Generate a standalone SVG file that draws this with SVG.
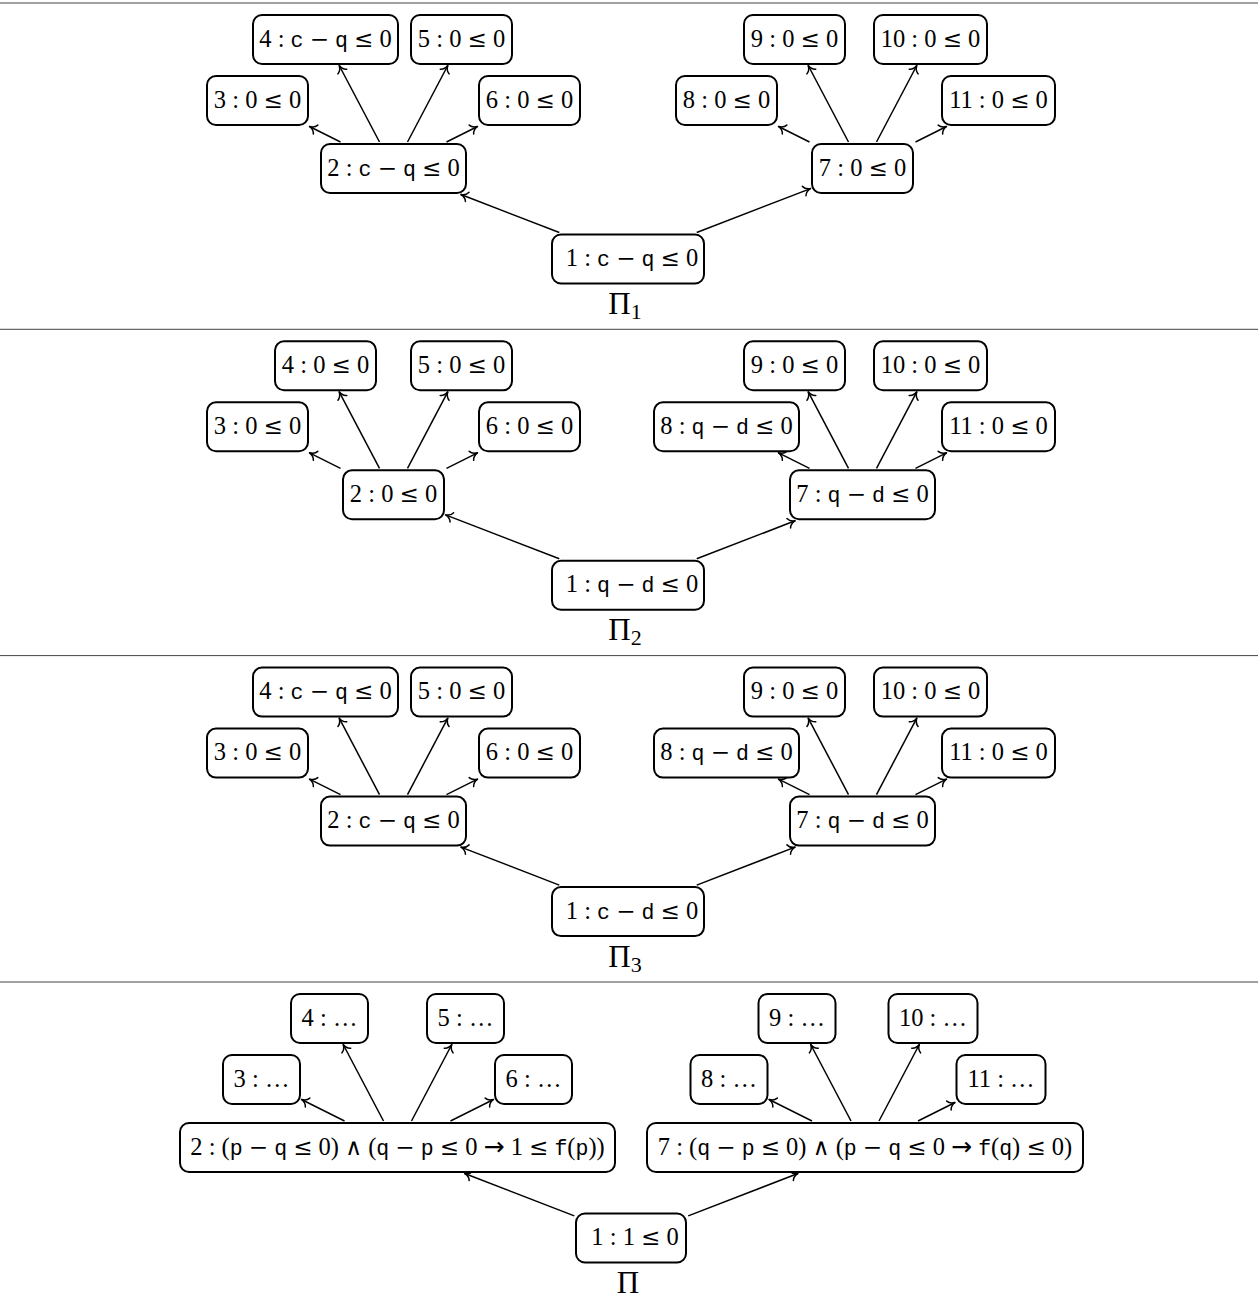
<svg xmlns="http://www.w3.org/2000/svg" width="1258" height="1301" viewBox="0 0 1258 1301">
<style>
.node rect{fill:#fff;stroke:#000;stroke-width:2}
.node text,.lbl{font-family:"Liberation Serif","DejaVu Serif",serif;font-size:24.5px;text-anchor:middle;fill:#000}
.tt{font-family:"Liberation Mono","DejaVu Sans Mono",monospace;font-size:21.5px}
.m{font-family:"DejaVu Serif",serif;font-size:23px}
.ar{font-family:"DejaVu Sans",sans-serif;font-size:25px}
.edges path{fill:none;stroke:#000;stroke-width:1.5;marker-end:url(#ah)}
.sep{stroke:#444;stroke-width:1}
.lbl{font-size:31px}
.sub{font-size:22px}
</style>
<defs>
<marker id="ah" markerUnits="userSpaceOnUse" viewBox="-9 -7 11 14" refX="0" refY="0" markerWidth="11" markerHeight="14" orient="auto">
<path d="M-6.8,-5 C-5.6,-2 -2.4,-0.45 0,0 C-2.4,0.45 -5.6,2 -6.8,5" fill="none" stroke="#000" stroke-width="1.5" stroke-linecap="round" stroke-linejoin="round"/>
</marker>
</defs>
<rect x="0" y="0" width="1258" height="1301" fill="#fff"/>

<g id="panel1">
<line class="sep" x1="0" y1="3" x2="1258" y2="3"/>
<g class="edges" id="p1-edges">
<path d="M559.3,232.5 L460.9,194.5"/>
<path d="M696.7,232.5 L810.5,188.6"/>
<path d="M340.5,142 L309.5,126.5"/>
<path d="M379.5,142 L339.2,65.5"/>
<path d="M407.5,142 L447.8,65.5"/>
<path d="M446.5,142 L477.5,126.5"/>
<path d="M809.5,142 L778.5,126.5"/>
<path d="M848.5,142 L808.2,65.5"/>
<path d="M876.5,142 L916.8,65.5"/>
<path d="M915.5,142 L946.5,126.5"/>
</g>
<g class="node" id="p1-n1"><rect x="552" y="234.5" width="152" height="49" rx="9"/><text x="632" y="266">1 : <tspan class="tt">c</tspan> <tspan class="m">−</tspan> <tspan class="tt">q</tspan> <tspan class="m">≤</tspan> 0</text></g>
<g class="node" id="p1-n2"><rect x="321" y="144" width="145" height="49" rx="9"/><text x="393.5" y="175.5">2 : <tspan class="tt">c</tspan> <tspan class="m">−</tspan> <tspan class="tt">q</tspan> <tspan class="m">≤</tspan> 0</text></g>
<g class="node" id="p1-n3"><rect x="207" y="76" width="101" height="49" rx="9"/><text x="257.5" y="107.5">3 : 0 <tspan class="m">≤</tspan> 0</text></g>
<g class="node" id="p1-n4"><rect x="253" y="15" width="145" height="49" rx="9"/><text x="325.5" y="46.5">4 : <tspan class="tt">c</tspan> <tspan class="m">−</tspan> <tspan class="tt">q</tspan> <tspan class="m">≤</tspan> 0</text></g>
<g class="node" id="p1-n5"><rect x="411" y="15" width="101" height="49" rx="9"/><text x="461.5" y="46.5">5 : 0 <tspan class="m">≤</tspan> 0</text></g>
<g class="node" id="p1-n6"><rect x="479" y="76" width="101" height="49" rx="9"/><text x="529.5" y="107.5">6 : 0 <tspan class="m">≤</tspan> 0</text></g>
<g class="node" id="p1-n7"><rect x="812" y="144" width="101" height="49" rx="9"/><text x="862.5" y="175.5">7 : 0 <tspan class="m">≤</tspan> 0</text></g>
<g class="node" id="p1-n8"><rect x="676" y="76" width="101" height="49" rx="9"/><text x="726.5" y="107.5">8 : 0 <tspan class="m">≤</tspan> 0</text></g>
<g class="node" id="p1-n9"><rect x="744" y="15" width="101" height="49" rx="9"/><text x="794.5" y="46.5">9 : 0 <tspan class="m">≤</tspan> 0</text></g>
<g class="node" id="p1-n10"><rect x="874" y="15" width="113" height="49" rx="9"/><text x="930.5" y="46.5">10 : 0 <tspan class="m">≤</tspan> 0</text></g>
<g class="node" id="p1-n11"><rect x="942" y="76" width="113" height="49" rx="9"/><text x="998.5" y="107.5">11 : 0 <tspan class="m">≤</tspan> 0</text></g>
<text class="lbl" x="625" y="314">Π<tspan class="sub" dy="5">1</tspan></text>
</g>

<g id="panel2" transform="translate(0,326.3)">
<line class="sep" x1="0" y1="3" x2="1258" y2="3"/>
<g class="edges" id="p2-edges">
<path d="M559.3,232.5 L445.5,188.6"/>
<path d="M696.7,232.5 L795.1,194.5"/>
<path d="M340.5,142 L309.5,126.5"/>
<path d="M379.5,142 L339.2,65.5"/>
<path d="M407.5,142 L447.8,65.5"/>
<path d="M446.5,142 L477.5,126.5"/>
<path d="M809.5,142 L778.5,126.5"/>
<path d="M848.5,142 L808.2,65.5"/>
<path d="M876.5,142 L916.8,65.5"/>
<path d="M915.5,142 L946.5,126.5"/>
</g>
<g class="node" id="p2-n1"><rect x="552" y="234.5" width="152" height="49" rx="9"/><text x="632" y="266">1 : <tspan class="tt">q</tspan> <tspan class="m">−</tspan> <tspan class="tt">d</tspan> <tspan class="m">≤</tspan> 0</text></g>
<g class="node" id="p2-n2"><rect x="343" y="144" width="101" height="49" rx="9"/><text x="393.5" y="175.5">2 : 0 <tspan class="m">≤</tspan> 0</text></g>
<g class="node" id="p2-n3"><rect x="207" y="76" width="101" height="49" rx="9"/><text x="257.5" y="107.5">3 : 0 <tspan class="m">≤</tspan> 0</text></g>
<g class="node" id="p2-n4"><rect x="275" y="15" width="101" height="49" rx="9"/><text x="325.5" y="46.5">4 : 0 <tspan class="m">≤</tspan> 0</text></g>
<g class="node" id="p2-n5"><rect x="411" y="15" width="101" height="49" rx="9"/><text x="461.5" y="46.5">5 : 0 <tspan class="m">≤</tspan> 0</text></g>
<g class="node" id="p2-n6"><rect x="479" y="76" width="101" height="49" rx="9"/><text x="529.5" y="107.5">6 : 0 <tspan class="m">≤</tspan> 0</text></g>
<g class="node" id="p2-n7"><rect x="790" y="144" width="145" height="49" rx="9"/><text x="862.5" y="175.5">7 : <tspan class="tt">q</tspan> <tspan class="m">−</tspan> <tspan class="tt">d</tspan> <tspan class="m">≤</tspan> 0</text></g>
<g class="node" id="p2-n8"><rect x="654" y="76" width="145" height="49" rx="9"/><text x="726.5" y="107.5">8 : <tspan class="tt">q</tspan> <tspan class="m">−</tspan> <tspan class="tt">d</tspan> <tspan class="m">≤</tspan> 0</text></g>
<g class="node" id="p2-n9"><rect x="744" y="15" width="101" height="49" rx="9"/><text x="794.5" y="46.5">9 : 0 <tspan class="m">≤</tspan> 0</text></g>
<g class="node" id="p2-n10"><rect x="874" y="15" width="113" height="49" rx="9"/><text x="930.5" y="46.5">10 : 0 <tspan class="m">≤</tspan> 0</text></g>
<g class="node" id="p2-n11"><rect x="942" y="76" width="113" height="49" rx="9"/><text x="998.5" y="107.5">11 : 0 <tspan class="m">≤</tspan> 0</text></g>
<text class="lbl" x="625" y="314">Π<tspan class="sub" dy="5">2</tspan></text>
</g>

<g id="panel3" transform="translate(0,652.6)">
<line class="sep" x1="0" y1="3" x2="1258" y2="3"/>
<g class="edges" id="p3-edges">
<path d="M559.3,232.5 L460.9,194.5"/>
<path d="M696.7,232.5 L795.1,194.5"/>
<path d="M340.5,142 L309.5,126.5"/>
<path d="M379.5,142 L339.2,65.5"/>
<path d="M407.5,142 L447.8,65.5"/>
<path d="M446.5,142 L477.5,126.5"/>
<path d="M809.5,142 L778.5,126.5"/>
<path d="M848.5,142 L808.2,65.5"/>
<path d="M876.5,142 L916.8,65.5"/>
<path d="M915.5,142 L946.5,126.5"/>
</g>
<g class="node" id="p3-n1"><rect x="552" y="234.5" width="152" height="49" rx="9"/><text x="632" y="266">1 : <tspan class="tt">c</tspan> <tspan class="m">−</tspan> <tspan class="tt">d</tspan> <tspan class="m">≤</tspan> 0</text></g>
<g class="node" id="p3-n2"><rect x="321" y="144" width="145" height="49" rx="9"/><text x="393.5" y="175.5">2 : <tspan class="tt">c</tspan> <tspan class="m">−</tspan> <tspan class="tt">q</tspan> <tspan class="m">≤</tspan> 0</text></g>
<g class="node" id="p3-n3"><rect x="207" y="76" width="101" height="49" rx="9"/><text x="257.5" y="107.5">3 : 0 <tspan class="m">≤</tspan> 0</text></g>
<g class="node" id="p3-n4"><rect x="253" y="15" width="145" height="49" rx="9"/><text x="325.5" y="46.5">4 : <tspan class="tt">c</tspan> <tspan class="m">−</tspan> <tspan class="tt">q</tspan> <tspan class="m">≤</tspan> 0</text></g>
<g class="node" id="p3-n5"><rect x="411" y="15" width="101" height="49" rx="9"/><text x="461.5" y="46.5">5 : 0 <tspan class="m">≤</tspan> 0</text></g>
<g class="node" id="p3-n6"><rect x="479" y="76" width="101" height="49" rx="9"/><text x="529.5" y="107.5">6 : 0 <tspan class="m">≤</tspan> 0</text></g>
<g class="node" id="p3-n7"><rect x="790" y="144" width="145" height="49" rx="9"/><text x="862.5" y="175.5">7 : <tspan class="tt">q</tspan> <tspan class="m">−</tspan> <tspan class="tt">d</tspan> <tspan class="m">≤</tspan> 0</text></g>
<g class="node" id="p3-n8"><rect x="654" y="76" width="145" height="49" rx="9"/><text x="726.5" y="107.5">8 : <tspan class="tt">q</tspan> <tspan class="m">−</tspan> <tspan class="tt">d</tspan> <tspan class="m">≤</tspan> 0</text></g>
<g class="node" id="p3-n9"><rect x="744" y="15" width="101" height="49" rx="9"/><text x="794.5" y="46.5">9 : 0 <tspan class="m">≤</tspan> 0</text></g>
<g class="node" id="p3-n10"><rect x="874" y="15" width="113" height="49" rx="9"/><text x="930.5" y="46.5">10 : 0 <tspan class="m">≤</tspan> 0</text></g>
<g class="node" id="p3-n11"><rect x="942" y="76" width="113" height="49" rx="9"/><text x="998.5" y="107.5">11 : 0 <tspan class="m">≤</tspan> 0</text></g>
<text class="lbl" x="625" y="314">Π<tspan class="sub" dy="5">3</tspan></text>
</g>

<g id="panel4" transform="translate(0,979)">
<line class="sep" x1="0" y1="3" x2="1258" y2="3"/>
<g class="edges" id="p4-edges">
<path d="M574.3,236.9 L464.7,194.5"/>
<path d="M688.2,236.9 L797.9,194.5"/>
<path d="M344.5,142 L301.5,120.5"/>
<path d="M383.5,142 L343.2,65.5"/>
<path d="M411.5,142 L451.8,65.5"/>
<path d="M450.5,142 L493.5,120.5"/>
<path d="M812,142 L769,120.5"/>
<path d="M851,142 L810.7,65.5"/>
<path d="M879,142 L919.3,65.5"/>
<path d="M918,142 L955,123.5"/>
</g>
<g class="node" id="p4-n1"><rect x="576" y="234.5" width="110" height="49" rx="9"/><text x="635" y="266">1 : 1 <tspan class="m">≤</tspan> 0</text></g>
<g class="node" id="p4-n2"><rect x="180" y="144" width="435" height="49" rx="9"/><text x="397.5" y="175.5">2 : (<tspan class="tt">p</tspan> <tspan class="m">−</tspan> <tspan class="tt">q</tspan> <tspan class="m">≤</tspan> 0) <tspan class="m">∧</tspan> (<tspan class="tt">q</tspan> <tspan class="m">−</tspan> <tspan class="tt">p</tspan> <tspan class="m">≤</tspan> 0 <tspan class="ar">→</tspan> 1 <tspan class="m">≤</tspan> <tspan class="tt">f</tspan>(<tspan class="tt">p</tspan>))</text></g>
<g class="node" id="p4-n3"><rect x="223" y="76" width="77" height="49" rx="9"/><text x="261.5" y="107.5">3 : …</text></g>
<g class="node" id="p4-n4"><rect x="291" y="15" width="77" height="49" rx="9"/><text x="329.5" y="46.5">4 : …</text></g>
<g class="node" id="p4-n5"><rect x="427" y="15" width="77" height="49" rx="9"/><text x="465.5" y="46.5">5 : …</text></g>
<g class="node" id="p4-n6"><rect x="495" y="76" width="77" height="49" rx="9"/><text x="533.5" y="107.5">6 : …</text></g>
<g class="node" id="p4-n7"><rect x="647" y="144" width="436" height="49" rx="9"/><text x="865" y="175.5">7 : (<tspan class="tt">q</tspan> <tspan class="m">−</tspan> <tspan class="tt">p</tspan> <tspan class="m">≤</tspan> 0) <tspan class="m">∧</tspan> (<tspan class="tt">p</tspan> <tspan class="m">−</tspan> <tspan class="tt">q</tspan> <tspan class="m">≤</tspan> 0 <tspan class="ar">→</tspan> <tspan class="tt">f</tspan>(<tspan class="tt">q</tspan>) <tspan class="m">≤</tspan> 0)</text></g>
<g class="node" id="p4-n8"><rect x="690.5" y="76" width="77" height="49" rx="9"/><text x="729" y="107.5">8 : …</text></g>
<g class="node" id="p4-n9"><rect x="758.5" y="15" width="77" height="49" rx="9"/><text x="797" y="46.5">9 : …</text></g>
<g class="node" id="p4-n10"><rect x="888.5" y="15" width="89" height="49" rx="9"/><text x="933" y="46.5">10 : …</text></g>
<g class="node" id="p4-n11"><rect x="956.5" y="76" width="89" height="49" rx="9"/><text x="1001" y="107.5">11 : …</text></g>
<text class="lbl" x="628" y="314">Π</text>
</g>
</svg>
